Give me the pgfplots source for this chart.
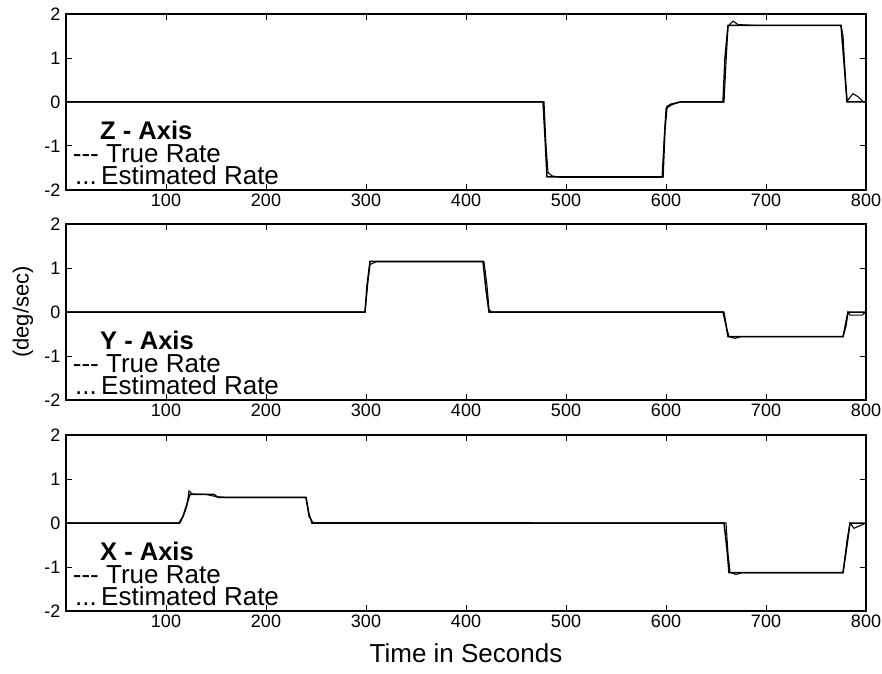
\documentclass[border=0pt]{standalone}
\usepackage{fontspec}
\setmainfont{Liberation Sans}
\usepackage{pgfplots}
\pgfplotsset{compat=1.18}
\pgfplotsset{
  rate/.style={
    scale only axis, width=800pt, height=176pt,
    anchor=south west,
    xmin=0, xmax=800, ymin=-2, ymax=2,
    xtick={100,200,...,800}, ytick={-2,-1,0,1,2},
    tick align=inside, major tick length=6pt,
    tick style={black, line width=1pt},
    axis line style={black, line width=1.2pt},
    ticklabel style={font=\fontsize{18}{18}\selectfont},
    yticklabel style={xshift=-2pt},
    /pgf/number format/assume math mode=true,
  },
  truer/.style={black, line width=1.5pt, no markers},
  estr/.style={black, line width=1.1pt, no markers},
}
\tikzset{
  leg/.style={anchor=base west, inner sep=0pt, font=\fontsize{26}{26}\selectfont},
  legb/.style={anchor=base west, inner sep=0pt, font=\fontsize{25.5}{25.5}\selectfont\bfseries},
}
\begin{document}
\begin{tikzpicture}
\path[use as bounding box] (0pt,0pt) rectangle (882pt,673pt);
% Z axis
\begin{axis}[rate, at={(66pt,483pt)}]
\addplot[truer] coordinates {(0,0) (477,0) (479,-0.8) (481,-1.70) (597,-1.70) (599,-0.6) (601,-0.1) (605,-0.05) (614,0) (657,0) (659,1.0) (662,1.74) (775,1.74) (778,0.9) (781,0) (800,0)};
\addplot[estr] coordinates {(0,0) (478,0) (480,-1.0) (482,-1.6) (486,-1.68) (494,-1.71) (596,-1.71) (598,-0.9) (600,-0.15) (606,-0.06) (614,0) (658,0) (660,0.9) (662,1.72) (667,1.84) (672,1.76) (690,1.74) (775,1.74) (777,1.5) (779,0.7) (781,0.02) (787,0.19) (792,0.12) (797,0.01) (800,0)};
\node[legb] at (axis cs:34,-0.86) {Z - Axis};
\node[leg] at (axis cs:6.7,-1.38) {-{}-{}- True Rate};
\node[leg] at (axis cs:9,-1.886) {...\,Estimated Rate};
\end{axis}
% Y axis
\begin{axis}[rate, at={(66pt,273pt)}]
\addplot[truer] coordinates {(0,0) (299,0) (301,0.6) (304,1.15) (417,1.15) (420,0.5) (423,0) (657,0) (660,-0.3) (662,-0.56) (777,-0.56) (780,-0.3) (782,0) (800,0)};
\addplot[estr] coordinates {(0,0) (299,0) (302,0.7) (304,1.08) (310,1.14) (418,1.14) (421,0.6) (423,0.05) (426,0) (658,0) (661,-0.4) (663,-0.56) (669,-0.6) (675,-0.56) (777,-0.56) (780,-0.2) (782,0) (784,-0.07) (796,-0.07) (800,0)};
\node[legb] at (axis cs:34,-0.86) {Y - Axis};
\node[leg] at (axis cs:6.7,-1.38) {-{}-{}- True Rate};
\node[leg] at (axis cs:9,-1.886) {...\,Estimated Rate};
\end{axis}
% X axis
\begin{axis}[rate, at={(66pt,62pt)}]
\addplot[truer] coordinates {(0,0) (113,0) (117,0.15) (124,0.65) (148,0.65) (152,0.58) (240,0.58) (243,0.2) (246,0) (658,0) (661,-0.6) (663,-1.13) (777,-1.13) (781,-0.5) (784,0) (800,0)};
\addplot[estr] coordinates {(0,0) (114,0) (118,0.2) (121,0.4) (123,0.73) (126,0.66) (140,0.65) (150,0.6) (160,0.58) (240,0.58) (243,0.15) (247,0.01) (660,0) (662,-0.7) (664,-1.12) (670,-1.17) (676,-1.13) (777,-1.13) (781,-0.4) (784,0) (788,-0.12) (794,-0.06) (800,0)};
\node[legb] at (axis cs:34,-0.86) {X - Axis};
\node[leg] at (axis cs:6.7,-1.38) {-{}-{}- True Rate};
\node[leg] at (axis cs:9,-1.886) {...\,Estimated Rate};
\end{axis}
\node[rotate=90, font=\fontsize{22}{22}\selectfont] at (23pt,361pt) {(deg/sec)};
\node[anchor=base, font=\fontsize{26}{26}\selectfont] at (466pt,11pt) {Time in Seconds};
\end{tikzpicture}
\end{document}
